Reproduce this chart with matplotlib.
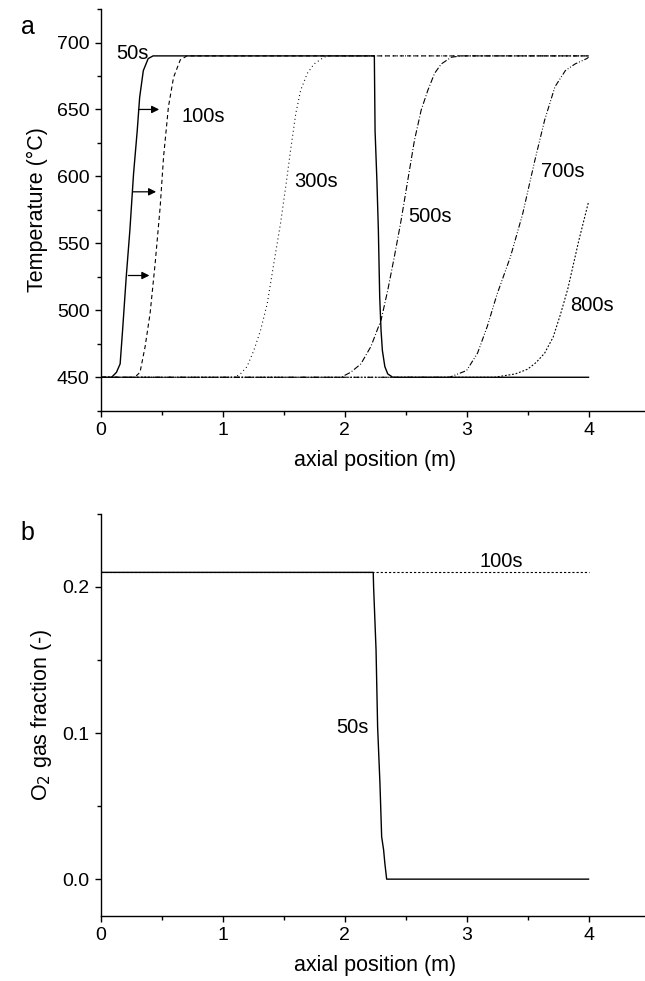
import matplotlib
matplotlib.use('Agg')
from matplotlib import pyplot as plt
from matplotlib.ticker import MultipleLocator, FormatStrFormatter

plt.rcParams['font.family'] = ['Liberation Sans', 'DejaVu Sans']
plt.rcParams['font.size'] = 14
plt.rcParams['lines.scale_dashes'] = False

# (a) temperature profiles
x_50s = [0, 0.09, 0.13, 0.16, 0.18, 0.21, 0.24, 0.27, 0.30, 0.32, 0.35, 0.39, 0.43,
         2.244, 2.25, 2.265, 2.277, 2.288, 2.299, 2.31, 2.33, 2.354, 2.395, 4.0]
t_50s = [450, 450, 453.7, 460, 485, 525, 560, 602, 634, 659, 679, 688, 690,
         690, 634, 597, 560, 510, 485, 470, 458, 452.5, 450, 450]

x_100s = [0, 0.28, 0.323, 0.365, 0.406, 0.447, 0.488, 0.516, 0.556, 0.598, 0.653, 0.708, 4.0]
t_100s = [450, 450, 453.7, 473, 498, 535, 577, 614.6, 652, 674, 687, 690, 690]

x_300s = [0, 1.1, 1.146, 1.2, 1.256, 1.311, 1.366, 1.42, 1.475, 1.517, 1.558, 1.6, 1.64,
          1.695, 1.75, 1.83, 1.87, 4.0]
t_300s = [450, 450, 452.5, 457.9, 470, 485, 505, 535, 565, 592, 620, 647, 664.4,
          677, 684, 689, 690, 690]

x_500s = [0, 1.97, 2.05, 2.134, 2.216, 2.3, 2.354, 2.408, 2.463, 2.518, 2.573, 2.628,
          2.683, 2.738, 2.793, 2.875, 2.957, 4.0]
t_500s = [450, 450, 453.7, 460, 473, 493, 515, 540, 567, 597, 627, 649.5,
          664.4, 677, 684, 689, 690, 690]

x_700s = [0, 2.86, 3.0, 3.09, 3.17, 3.25, 3.36, 3.46, 3.56, 3.64, 3.725, 3.81, 3.89, 3.986, 4.0]
t_700s = [450, 450, 455, 468, 488, 512, 540, 572, 612, 642, 667, 679, 684, 688, 689]

x_800s = [0, 3.23, 3.40, 3.50, 3.57, 3.64, 3.71, 3.77, 3.83, 3.92, 4.0]
t_800s = [450, 450, 452.5, 456, 461, 468, 480, 497, 516, 552, 581]

# arrows next to the 50s front: (start x, end x, temperature)
arrows_a = [(0.31, 0.48, 650), (0.263, 0.455, 588.5), (0.227, 0.40, 526)]

# (b) O2 gas fraction
x_o2_50s = [0, 2.235, 2.238, 2.258, 2.271, 2.29, 2.304, 2.32, 2.33, 2.345, 4.0]
o2_50s = [0.21, 0.21, 0.2, 0.157, 0.104, 0.0655, 0.029, 0.02, 0.011, 0.0, 0.0]
x_o2_100s = [0, 4.0]
o2_100s = [0.21, 0.21]

styles = {
    '50s': '-',
    '100s': (0, (3.0, 2.2)),
    '300s': (0, (0.7, 2.2)),
    '500s': (0, (4.3, 1.5, 0.7, 1.5)),
    '700s': (0, (4.0, 1.4, 0.7, 1.4, 0.7, 1.4)),
    '800s': (0, (1.3, 1.3)),
}


def _style_axes(ax):
    ax.spines['top'].set_visible(False)
    ax.spines['right'].set_visible(False)
    ax.spines['left'].set_linewidth(1.0)
    ax.spines['bottom'].set_linewidth(1.0)
    ax.tick_params(which='major', direction='out', length=4.5, width=1.0, labelsize=14)
    ax.tick_params(which='minor', direction='out', length=2.8, width=1.0)
    ax.set_xlim(0, 4.5)
    ax.xaxis.set_major_locator(MultipleLocator(1))
    ax.xaxis.set_minor_locator(MultipleLocator(0.5))
    ax.set_xlabel('axial position (m)', fontsize=15.5, labelpad=8)


fig = plt.figure(figsize=(6.45, 9.81), dpi=100)
ax1 = fig.add_axes([0.156, 0.5813, 0.851, 0.4095])
ax2 = fig.add_axes([0.156, 0.0666, 0.851, 0.4095])

lw = 0.8
for xs, ts, key in [(x_800s, t_800s, '800s'), (x_700s, t_700s, '700s'),
                    (x_500s, t_500s, '500s'), (x_300s, t_300s, '300s'),
                    (x_100s, t_100s, '100s'), (x_50s, t_50s, '50s')]:
    ax1.plot(xs, ts, color='black', linewidth=lw if key != '50s' else 1.0,
             linestyle=styles[key])

for x0, x1, t in arrows_a:
    ax1.annotate('', xy=(x1, t), xytext=(x0, t),
                 arrowprops=dict(arrowstyle='-|>', color='black', lw=0.9,
                                 mutation_scale=11, shrinkA=0, shrinkB=0))

label_kw = dict(fontsize=14.5, ha='center', va='center')
ax1.text(0.262, 692, '50s', **label_kw)
ax1.text(0.838, 644.5, '100s', **label_kw)
ax1.text(1.764, 596, '300s', **label_kw)
ax1.text(2.704, 570, '500s', **label_kw)
ax1.text(3.787, 603.4, '700s', **label_kw)
ax1.text(4.03, 503.5, '800s', **label_kw)

_style_axes(ax1)
ax1.set_ylim(425, 725)
ax1.yaxis.set_major_locator(MultipleLocator(50))
ax1.yaxis.set_minor_locator(MultipleLocator(25))
ax1.set_ylabel('Temperature (°C)', fontsize=15.5, labelpad=6)

ax2.plot(x_o2_100s, o2_100s, color='black', linewidth=lw, linestyle=(0, (1.6, 1.4)))
ax2.plot(x_o2_50s, o2_50s, color='black', linewidth=1.0, linestyle='-')
ax2.text(2.065, 0.104, '50s', **label_kw)
ax2.text(3.285, 0.2176, '100s', **label_kw)

_style_axes(ax2)
ax2.set_ylim(-0.025, 0.25)
ax2.yaxis.set_major_locator(MultipleLocator(0.1))
ax2.yaxis.set_minor_locator(MultipleLocator(0.05))
ax2.yaxis.set_major_formatter(FormatStrFormatter('%.1f'))
ax2.set_ylabel('O$_2$ gas fraction (-)', fontsize=15.5, labelpad=6)

fig.text(0.0426, 0.9728, 'a', fontsize=18, ha='center', va='center')
fig.text(0.0426, 0.4564, 'b', fontsize=18, ha='center', va='center')

plt.savefig('out.png', dpi=100)
